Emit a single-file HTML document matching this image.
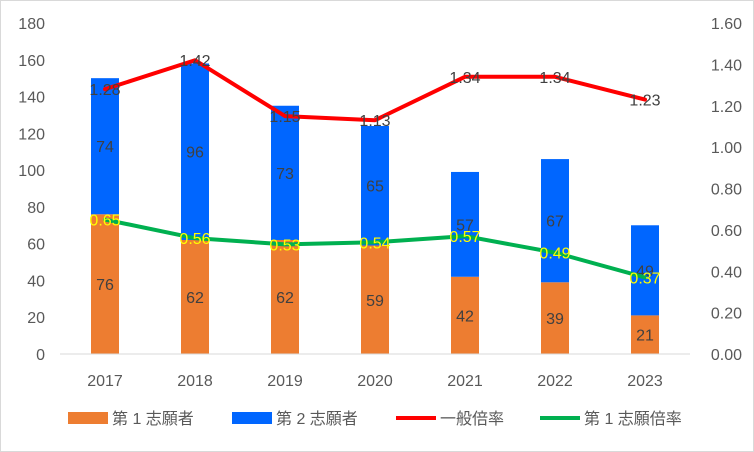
<!DOCTYPE html>
<html><head><meta charset="utf-8"><style>
body{margin:0;background:#fff;}
svg{display:block;font-family:"Liberation Sans","Noto Sans CJK JP",sans-serif;}
</style></head><body>
<svg id="chart" width="754" height="452" viewBox="0 0 754 452">
<rect x="0.5" y="0.5" width="753" height="451" fill="#fff" stroke="#d9d9d9"/>
<g id="g"></g>
</svg>
<script>
const categories=["2017","2018","2019","2020","2021","2022","2023"];
const first=[76,62,62,59,42,39,21];
const second=[74,96,73,65,57,67,49];
const generalRatio=[1.28,1.42,1.15,1.13,1.34,1.34,1.23];
const firstRatio=[0.65,0.56,0.53,0.54,0.57,0.49,0.37];
const leftTicks=[0,20,40,60,80,100,120,140,160,180];
const rightTicks=["0.00","0.20","0.40","0.60","0.80","1.00","1.20","1.40","1.60"];
const NS="http://www.w3.org/2000/svg",g=document.getElementById('g');
const y0=354,y1=23;
const yL=v=>y0-(v/180)*(y0-y1);
const yR=v=>y0-(v/1.6)*(y0-y1);
const xC=i=>105+i*90;
function mk(t,a,txt){const e=document.createElementNS(NS,t);for(const k in a)e.setAttribute(k,a[k]);if(txt!=null)e.textContent=txt;g.appendChild(e);return e;}
leftTicks.forEach(v=>{const e=mk('text',{x:45,y:yL(v)+6,'text-anchor':'end','font-size':16,fill:'#595959'},v);

});
rightTicks.forEach(v=>{const e=mk('text',{x:742,y:yR(+v)+6,'text-anchor':'end','font-size':16,fill:'#595959'},v);

});
categories.forEach((c,i)=>{const e=mk('text',{x:xC(i),y:386,'text-anchor':'middle','font-size':16,fill:'#595959'},c);

});
const bw=28;
categories.forEach((c,i)=>{
const a=mk('rect',{x:xC(i)-bw/2,y:yL(first[i]),width:bw,height:y0-yL(first[i]),fill:'#ed7d31'});


const b=mk('rect',{x:xC(i)-bw/2,y:yL(first[i]+second[i]),width:bw,height:yL(first[i])-yL(first[i]+second[i]),fill:'#0066ff'});


const t1=mk('text',{x:xC(i),y:(yL(first[i])+y0)/2+6,'text-anchor':'middle','font-size':16,fill:'#404040'},first[i]);


const t2=mk('text',{x:xC(i),y:(yL(first[i])+yL(first[i]+second[i]))/2+6,'text-anchor':'middle','font-size':16,fill:'#404040'},second[i]);


});
const axis=mk('line',{x1:60,x2:690,y1:y0,y2:y0,stroke:'#d9d9d9'});


function line(arr,color,name,labelColor){
const p=mk('polyline',{points:arr.map((v,i)=>xC(i)+','+yR(v)).join(' '),fill:'none',stroke:color,'stroke-width':4,'stroke-linejoin':'round','stroke-linecap':'round'});


arr.forEach((v,i)=>{const t=mk('text',{x:xC(i),y:yR(v)+6,'text-anchor':'middle','font-size':16,fill:labelColor},v.toFixed(2));

});
}
line(generalRatio,'#ff0000','general-ratio-line','#404040');
line(firstRatio,'#00b050','first-ratio-line','#ffff00');
const leg=[["rect","#ed7d31","第 1 志願者",68],["rect","#0066ff","第 2 志願者",232],["line","#ff0000","一般倍率",396],["line","#00b050","第 1 志願倍率",540]];
leg.forEach(l=>{
let m;
if(l[0]=='rect')m=mk('rect',{x:l[3],y:412,width:40,height:12,fill:l[1]});
else m=mk('line',{x1:l[3],x2:l[3]+40,y1:418,y2:418,stroke:l[1],'stroke-width':4});


const t=mk('text',{x:l[3]+44,y:424,'font-size':16,fill:'#595959'},l[2]);


});
</script>
</body></html>
